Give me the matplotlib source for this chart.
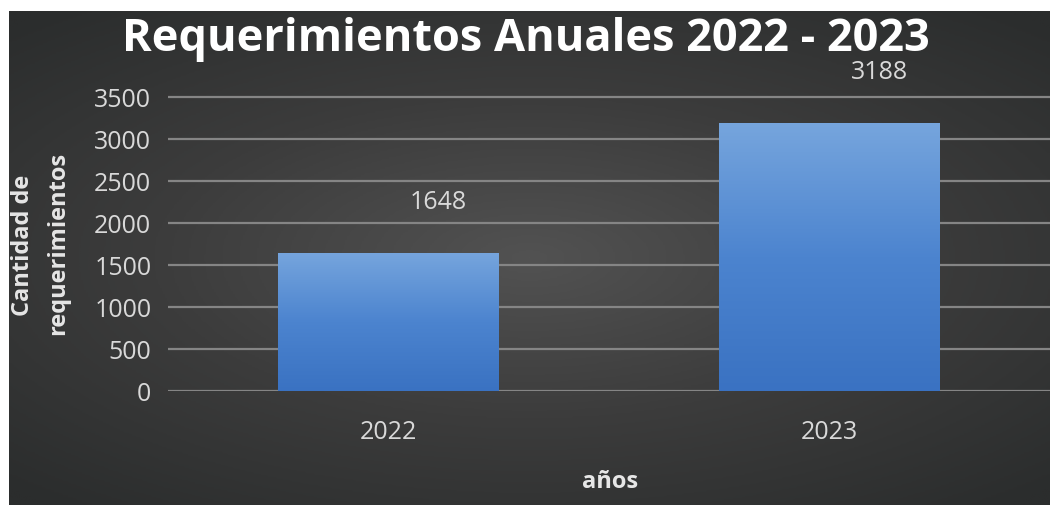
import numpy as np
import matplotlib.pyplot as plt
from matplotlib.colors import LinearSegmentedColormap

plt.rcParams['font.family'] = ['Open Sans', 'DejaVu Sans']

# datos
anios = ['2022', '2023']
requerimientos = [1648, 3188]
yticks = [0, 500, 1000, 1500, 2000, 2500, 3000, 3500]

fig = plt.figure(figsize=(10.5, 5.06), dpi=100, facecolor='white')

# fondo con degradado radial
bg = fig.add_axes([9 / 1050, 0, 1041 / 1050, 494 / 506])
bg.set_axis_off()
yy, xx = np.mgrid[-1:1:300j, -1:1:600j]
r = np.sqrt((xx * 0.9) ** 2 + (yy * 1.0) ** 2)
bg_cmap = LinearSegmentedColormap.from_list('bg', ['#525252', '#3c3c3c', '#2b2d2d'])
bg.imshow(np.clip(r / 1.3, 0, 1), cmap=bg_cmap, aspect='auto', extent=[0, 1, 0, 1], vmin=0, vmax=1)

ax = fig.add_axes([168 / 1050, 114 / 506, 882 / 1050, 336 / 506])
ax.patch.set_alpha(0)
x = np.arange(len(anios))
bars = ax.bar(x, requerimientos, width=0.5, color='none', zorder=3)

# degradado azul dentro de cada barra
bar_cmap = LinearSegmentedColormap.from_list('bar', ['#3a72c2', '#4c84cf', '#76a5dd'])
grad = np.linspace(0, 1, 256).reshape(-1, 1)
for b in bars:
    im = ax.imshow(grad, cmap=bar_cmap, aspect='auto', origin='lower',
                   extent=[b.get_x(), b.get_x() + b.get_width(), 0, b.get_height()], zorder=3)
    im.set_clip_path(b)

for xi, v in zip(x, requerimientos):
    ax.text(xi + 0.113, v + 610, str(v), ha='center', va='center', color='#d9d9d9', fontsize=18)

ax.set_xlim(-0.5, 1.5)
ax.set_ylim(0, 4000)
ax.set_yticks(yticks)
ax.set_xticks(x)
ax.set_xticklabels(anios)
ax.grid(axis='y', color='#858585', linewidth=1.6, zorder=0)
ax.set_axisbelow(True)
for s in ax.spines.values():
    s.set_visible(False)
ax.tick_params(axis='both', length=0, colors='#d9d9d9', labelsize=18)
ax.tick_params(axis='y', pad=12)
ax.tick_params(axis='x', pad=20)

fig.text(526 / 1050, 1 - 39 / 506, 'Requerimientos Anuales 2022 - 2023', ha='center', va='center',
         color='white', fontsize=32.5, fontweight='bold')
fig.text(610 / 1050, 1 - 482 / 506, 'años', ha='center', va='center', color='#e6e6e6',
         fontsize=17, fontweight='bold')
fig.text(23 / 1050, 1 - 245 / 506, 'Cantidad de', ha='center', va='center', rotation=90,
         color='#e6e6e6', fontsize=17, fontweight='bold')
fig.text(58 / 1050, 1 - 243 / 506, 'requerimientos', ha='center', va='center', rotation=90,
         color='#e6e6e6', fontsize=17, fontweight='bold')

fig.savefig('out.png', dpi=100, facecolor=fig.get_facecolor())
